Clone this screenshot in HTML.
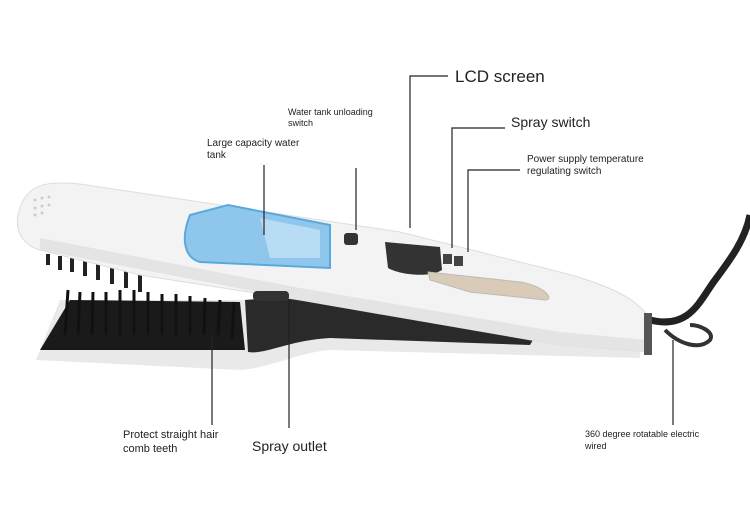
<!DOCTYPE html>
<html><head><style>
html,body{margin:0;padding:0;background:#fff;}
svg{display:block}
text{font-family:"Liberation Sans",sans-serif;fill:#222}
</style></head><body>
<svg width="750" height="515" viewBox="0 0 750 515" xmlns="http://www.w3.org/2000/svg">
<rect width="750" height="515" fill="#fff"/>
<!-- cord -->
<path d="M650 320 C690 330 700 300 715 280 C730 260 745 240 750 215" stroke="#222" stroke-width="7" fill="none"/>
<path d="M665 330 C680 345 700 350 710 340 C715 332 700 325 690 325" stroke="#333" stroke-width="4" fill="none"/>
<!-- upper row of teeth behind -->
<g stroke="#222" stroke-width="4">
<line x1="48" y1="254" x2="48" y2="265"/><line x1="60" y1="256" x2="60" y2="270"/><line x1="72" y1="258" x2="72" y2="272"/><line x1="85" y1="260" x2="85" y2="276"/><line x1="98" y1="263" x2="98" y2="280"/><line x1="112" y1="266" x2="112" y2="284"/><line x1="126" y1="270" x2="126" y2="288"/><line x1="140" y1="273" x2="140" y2="292"/>
</g>
<!-- lower arm -->
<path d="M36 360 L60 300 L240 300 L300 295 L560 330 L640 340 L640 358 L330 350 C300 352 270 368 240 370 Z" fill="#e9e9e9"/>
<path d="M40 350 L70 300 L240 302 L245 350 Z" fill="#1a1a1a"/>
<path d="M245 300 L300 296 L540 328 L530 345 L330 338 C290 340 265 355 248 352 Z" fill="#2a2a2a"/>
<g stroke="#111" stroke-width="3">
<line x1="65" y1="335" x2="68" y2="290"/><line x1="78" y1="335" x2="80" y2="292"/><line x1="92" y1="335" x2="93" y2="292"/><line x1="106" y1="335" x2="106" y2="292"/><line x1="120" y1="335" x2="120" y2="290"/><line x1="134" y1="335" x2="134" y2="290"/><line x1="148" y1="335" x2="148" y2="292"/><line x1="162" y1="335" x2="162" y2="294"/><line x1="176" y1="335" x2="176" y2="294"/><line x1="190" y1="335" x2="190" y2="296"/><line x1="204" y1="335" x2="205" y2="298"/><line x1="218" y1="335" x2="220" y2="300"/><line x1="232" y1="338" x2="234" y2="302"/>
</g>
<!-- upper arm body -->
<path d="M30 192 C40 182 60 182 80 184 L400 232 L560 272 C610 285 640 300 650 320 L648 352 L560 345 L300 300 L140 275 L40 250 C22 245 15 230 18 215 C20 205 24 197 30 192 Z" fill="#f3f3f3" stroke="#ddd" stroke-width="1"/>
<path d="M40 250 L300 300 L560 345 L648 352 L648 340 L560 332 L300 288 L40 238 Z" fill="#e4e4e4"/>
<rect x="644" y="313" width="8" height="42" fill="#555"/>
<!-- tank -->
<path d="M190 215 L228 205 L330 225 L330 268 L200 262 C185 258 180 240 190 215 Z" fill="#8fc7ec" stroke="#5aa9dd" stroke-width="2"/>
<path d="M260 218 L320 230 L320 258 L270 258 Z" fill="#b8dcf3"/>
<!-- buttons -->
<rect x="344" y="233" width="14" height="12" rx="3" fill="#333"/>
<path d="M385 242 L440 247 L442 270 C430 278 400 275 388 268 Z" fill="#333"/>
<rect x="443" y="254" width="9" height="10" fill="#444"/>
<rect x="454" y="256" width="9" height="10" fill="#444"/>
<path d="M428 272 L520 282 C545 286 555 300 545 300 L470 292 L430 280 Z" fill="#d9cbb8" stroke="#bbb"/>
<rect x="253" y="291" width="36" height="10" rx="4" fill="#333"/>
<!-- vent dots -->
<g fill="#ccc"><circle cx="35" cy="200" r="1.5"/><circle cx="42" cy="198" r="1.5"/><circle cx="49" cy="197" r="1.5"/><circle cx="35" cy="208" r="1.5"/><circle cx="42" cy="206" r="1.5"/><circle cx="49" cy="205" r="1.5"/><circle cx="35" cy="215" r="1.5"/><circle cx="42" cy="213" r="1.5"/></g>
<!-- leader lines -->
<g stroke="#222" stroke-width="1.2" fill="none">
<polyline points="448,76 410,76 410,228"/>
<polyline points="505,128 452,128 452,248"/>
<polyline points="520,170 468,170 468,252"/>
<line x1="356" y1="168" x2="356" y2="230"/>
<line x1="264" y1="165" x2="264" y2="235"/>
<line x1="212" y1="330" x2="212" y2="425"/>
<line x1="289" y1="300" x2="289" y2="428"/>
<line x1="673" y1="340" x2="673" y2="425"/>
</g>
<!-- labels -->
<text x="455" y="82" font-size="17">LCD screen</text>
<text x="511" y="127" font-size="14">Spray switch</text>
<text x="288" y="115" font-size="9">Water tank unloading</text>
<text x="288" y="126" font-size="9">switch</text>
<text x="207" y="146" font-size="10">Large capacity water</text>
<text x="207" y="158" font-size="10">tank</text>
<text x="527" y="162" font-size="10">Power supply temperature</text>
<text x="527" y="174" font-size="10">regulating switch</text>
<text x="123" y="438" font-size="11">Protect straight hair</text>
<text x="123" y="452" font-size="11">comb teeth</text>
<text x="252" y="451" font-size="14">Spray outlet</text>
<text x="585" y="437" font-size="9">360 degree rotatable electric</text>
<text x="585" y="449" font-size="9">wired</text>
</svg>
</body></html>
